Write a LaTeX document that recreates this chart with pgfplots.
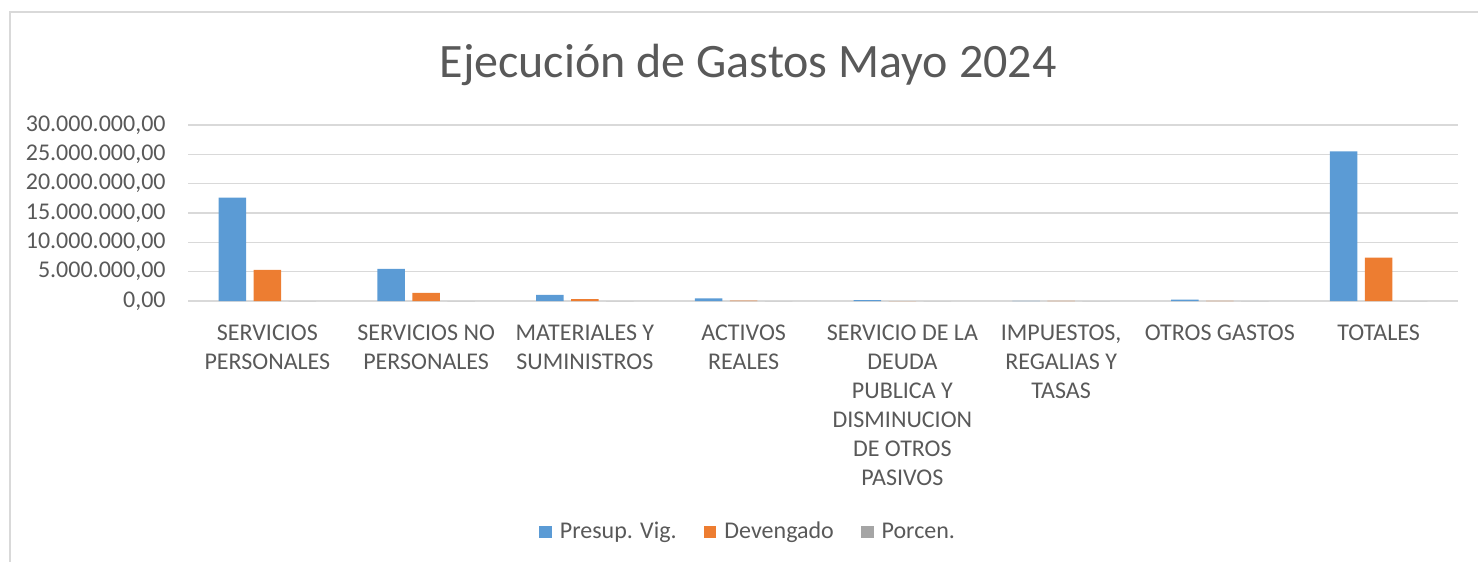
\documentclass[border=0pt]{standalone}
\usepackage{pgfplots}
\pgfplotsset{compat=1.18}
\usepackage{fontspec}
\setmainfont{Carlito}
\definecolor{cblue}{HTML}{5B9BD5}
\definecolor{corange}{HTML}{ED7D31}
\definecolor{cgray}{HTML}{A5A5A5}
\definecolor{ctext}{HTML}{595959}
\definecolor{cgrid}{HTML}{D9D9D9}
\begin{document}
\begin{tikzpicture}
\path[use as bounding box] (0pt,0pt) rectangle (739pt,281pt);
\draw[cgrid, line width=0.6pt] (5pt,-3pt) -- (5pt,275pt) -- (745pt,275pt);
\node[anchor=base, text=ctext, font=\fontsize{24}{28}\selectfont] at (374pt,242pt) {Ejecución de Gastos Mayo 2024};
\begin{axis}[
  at={(94pt,130.5pt)}, anchor=south west,
  scale only axis, width=635pt, height=88pt,
  xmin=-0.5, xmax=7.5, ymin=0, ymax=30000000,
  scaled y ticks=false,
  ybar=3.75pt, bar width=13.75pt,
  xtick=data,
  xticklabels={{SERVICIOS\\PERSONALES},{SERVICIOS NO\\PERSONALES},{MATERIALES Y\\SUMINISTROS},{ACTIVOS\\REALES},{SERVICIO DE LA\\DEUDA\\PUBLICA Y\\DISMINUCION\\DE OTROS\\PASIVOS},{IMPUESTOS,\\REGALIAS Y\\TASAS},{OTROS GASTOS},{TOTALES}},
  ytick={0,5000000,10000000,15000000,20000000,25000000,30000000},
  yticklabels={{0,00},{5.000.000,00},{10.000.000,00},{15.000.000,00},{20.000.000,00},{25.000.000,00},{30.000.000,00}},
  xticklabel style={anchor=north, inner sep=0pt, yshift=-12pt, align=center, text=ctext, font=\fontsize{12}{14.5}\selectfont},
  yticklabel style={anchor=east, inner sep=0pt, xshift=-11pt, text=ctext, font=\fontsize{12}{14.5}\selectfont},
  major tick length=0pt,
  tick style={draw=none},
  axis line style={draw=none},
  ymajorgrids,
  major grid style={cgrid, line width=0.75pt},
  every axis plot post/.append style={legend image code/.code={\fill[##1] (0pt,-3.2pt) rectangle (6.4pt,3.2pt);}},
  legend columns=3,
  legend style={at={(0.4402,-1.3125)}, anchor=center, draw=none, fill=none,
    font=\fontsize{12}{14.5}\selectfont, text=ctext,
    nodes={inner sep=0pt},
    /tikz/every odd column/.append style={column sep=4pt},
    /tikz/every even column/.append style={column sep=13.5pt}},
  legend cell align=left,
  clip=false,
]
\addplot[fill=cblue, draw=none] coordinates {(0,17600000) (1,5470000) (2,1030000) (3,460000) (4,150000) (5,20000) (6,250000) (7,25500000)};
\addplot[fill=corange, draw=none] coordinates {(0,5300000) (1,1370000) (2,300000) (3,50000) (4,0) (5,5000) (6,20000) (7,7400000)};
\addplot[fill=cgray, draw=none] coordinates {(0,30.1) (1,25.0) (2,29.1) (3,10.9) (4,0) (5,25.0) (6,8.0) (7,29.0)};
\legend{Presup. Vig.,Devengado,Porcen.}
\end{axis}
\end{tikzpicture}
\end{document}
